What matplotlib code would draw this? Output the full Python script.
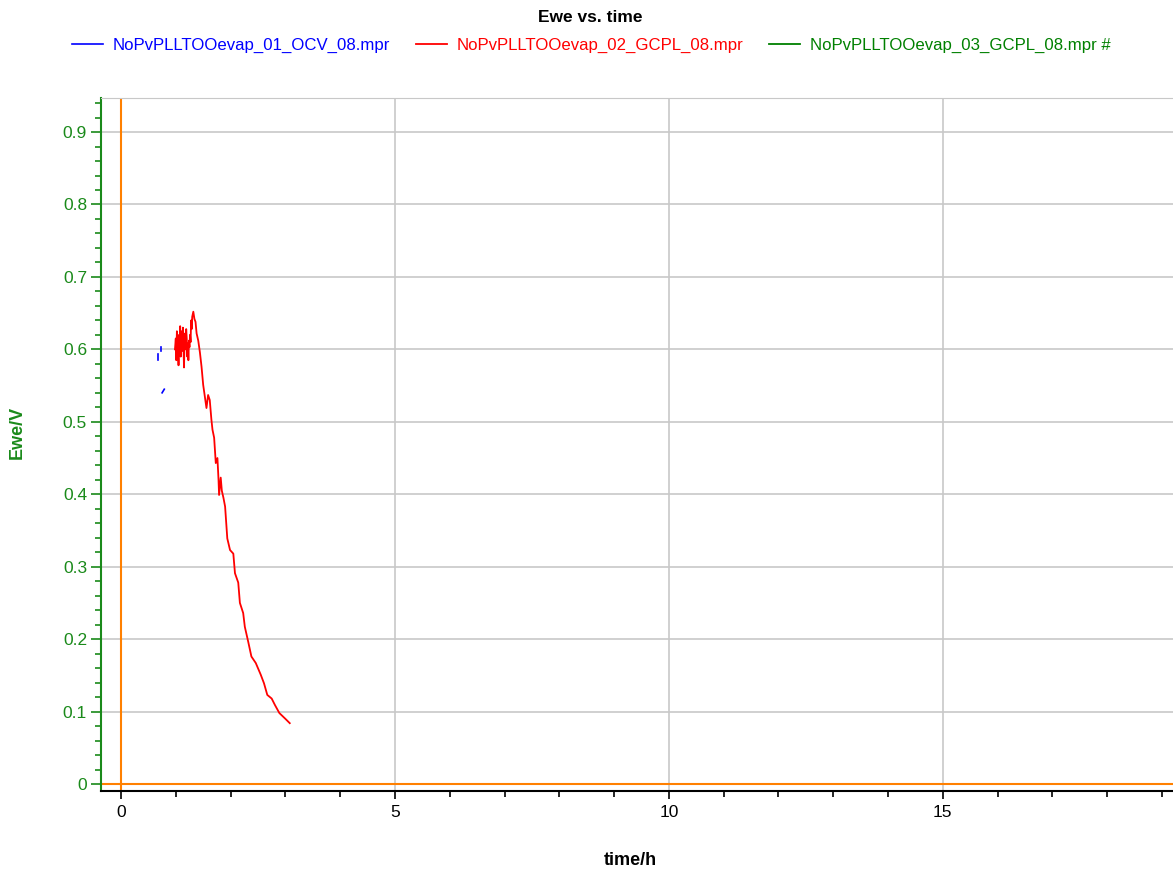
import matplotlib

matplotlib.use("Agg")
import matplotlib.pyplot as plt
from matplotlib.ticker import MultipleLocator

plt.rcParams["font.family"] = ["Liberation Sans", "DejaVu Sans"]

# OCV file: a few scattered short segments
ocv_segments = [
    ([0.675, 0.675], [0.593, 0.586]),
    ([0.73, 0.73], [0.603, 0.598]),
    ([0.75, 0.79], [0.540, 0.545]),
]

# GCPL file
gcpl_time = [
    0.985, 1.00, 1.01, 1.02, 1.03, 1.04, 1.05, 1.06, 1.07, 1.08, 1.09, 1.10, 1.11, 1.12,
    1.13, 1.14, 1.15, 1.16, 1.17, 1.18, 1.19, 1.20, 1.21, 1.22, 1.23, 1.24, 1.25, 1.26,
    1.27, 1.28, 1.29, 1.30, 1.32, 1.34, 1.36, 1.38, 1.41, 1.44, 1.47, 1.50, 1.53, 1.56,
    1.59, 1.62, 1.65, 1.67, 1.70, 1.73, 1.76, 1.78, 1.79, 1.82, 1.84, 1.87, 1.90, 1.94,
    1.99, 2.05, 2.08, 2.14, 2.17, 2.23, 2.26, 2.32, 2.38, 2.46, 2.55, 2.61, 2.67, 2.75,
    2.81, 2.89, 3.00, 3.08,
]
gcpl_ewe = [
    0.600, 0.615, 0.585, 0.625, 0.595, 0.610, 0.578, 0.620, 0.600, 0.632, 0.590, 0.615,
    0.625, 0.598, 0.630, 0.605, 0.575, 0.612, 0.622, 0.600, 0.628, 0.615, 0.590, 0.608,
    0.585, 0.612, 0.603, 0.620, 0.610, 0.640, 0.628, 0.645, 0.652, 0.642, 0.638, 0.622,
    0.612, 0.596, 0.576, 0.551, 0.535, 0.519, 0.537, 0.530, 0.503, 0.489, 0.478, 0.443,
    0.450, 0.420, 0.399, 0.423, 0.405, 0.395, 0.383, 0.339, 0.323, 0.318, 0.291, 0.278,
    0.250, 0.236, 0.217, 0.197, 0.176, 0.167, 0.151, 0.139, 0.123, 0.118, 0.109, 0.098,
    0.090, 0.084,
]

labels = [
    "NoPvPLLTOOevap_01_OCV_08.mpr",
    "NoPvPLLTOOevap_02_GCPL_08.mpr",
    "NoPvPLLTOOevap_03_GCPL_08.mpr #",
]
colors = ["#0000ff", "#ff0000", "#008000"]
axis_green = "#1a8a1a"
orange = "#ff8000"
fs = 12.5

fig = plt.figure(figsize=(11.73, 8.71), dpi=100)
ax = fig.add_axes([0.0861, 0.0918, 0.9139, 0.7957])

ax.axvline(0, color=orange, linewidth=1.5, zorder=2)
ax.axhline(0, color=orange, linewidth=1.5, zorder=2)

for i, (xs, ys) in enumerate(ocv_segments):
    ax.plot(xs, ys, color=colors[0], linewidth=1.2, zorder=4, label=labels[0] if i == 0 else None)
ax.plot(gcpl_time, gcpl_ewe, color=colors[1], linewidth=1.3, zorder=5, label=labels[1])
ax.plot([], [], color=colors[2], linewidth=1.3, label=labels[2])

ax.set_xlim(-0.365, 19.2)
ax.set_ylim(-0.0097, 0.947)
ax.xaxis.set_major_locator(MultipleLocator(5))
ax.xaxis.set_minor_locator(MultipleLocator(1))
ax.yaxis.set_major_locator(MultipleLocator(0.1))
ax.yaxis.set_minor_locator(MultipleLocator(0.02))
ax.yaxis.set_major_formatter(lambda v, pos: "0" if abs(v) < 1e-9 else f"{v:.1f}")
ax.grid(which="major", color="#c8c8c8", linewidth=1.2, zorder=1)

ax.tick_params(axis="x", which="both", direction="out", colors="black", labelsize=fs, pad=4)
ax.tick_params(axis="x", which="major", length=6, width=1.2)
ax.tick_params(axis="x", which="minor", length=4, width=1.2)
ax.tick_params(axis="y", which="both", direction="out", colors=axis_green, labelsize=fs, pad=3)
ax.tick_params(axis="y", which="major", length=7, width=1.2)
ax.tick_params(axis="y", which="minor", length=4, width=1.2)

ax.spines["left"].set_color(axis_green)
ax.spines["left"].set_linewidth(1.5)
ax.spines["bottom"].set_color("black")
ax.spines["bottom"].set_linewidth(1.5)
ax.spines["top"].set_color("#c8c8c8")
ax.spines["right"].set_visible(False)

fig.text(0.537, 0.012, "time/h", ha="center", va="center", fontsize=fs + 0.5,
         fontweight="bold")
fig.text(0.0145, 0.504, "Ewe/V", ha="center", va="center", rotation=90,
         fontsize=fs + 0.5, fontweight="bold", color=axis_green)
fig.text(0.503, 0.98, "Ewe vs. time", ha="center", va="center", fontsize=fs,
         fontweight="bold")

fig.legend(
    loc="center",
    bbox_to_anchor=(0.504, 0.948),
    ncol=3,
    frameon=False,
    fontsize=12.1,
    labelcolor="linecolor",
    handlelength=1.85,
    handletextpad=0.6,
    columnspacing=1.5,
)

fig.savefig("out.png", dpi=100)
